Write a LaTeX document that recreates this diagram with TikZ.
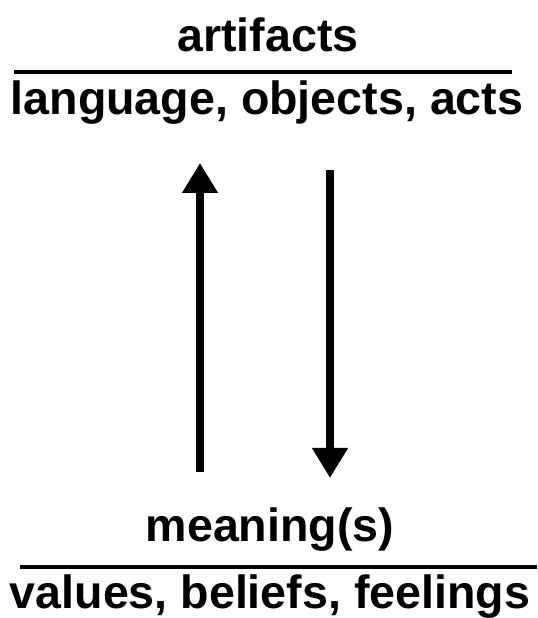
\documentclass[tikz,border=0pt]{standalone}
\usepackage{fontspec}
\setmainfont{Liberation Sans}
\usetikzlibrary{arrows.meta,positioning}

\begin{document}
\begin{tikzpicture}[
  label/.style={font=\bfseries\fontsize{26.5}{29}\selectfont,inner sep=0pt},
  rule/.style={draw=black,line width=2.2pt},
  arrow/.style={-{Triangle[length=6mm,width=6.8mm]},draw=black,line width=4.6pt}]
\useasboundingbox (0,0) rectangle (10.74,12.36);
\node[label] (artifacts) at (5.36,11.66) {artifacts};
\coordinate (topl) at (0.28,10.92);
\coordinate (topr) at (10.24,10.92);
\draw[rule] (topl) -- (topr);
\node[label] (forms) at (5.34,10.30) {language, objects, acts};

\coordinate (upfoot) at (4.0,2.92);
\coordinate (uptip) at (4.0,9.10);
\coordinate (downfoot) at (6.6,8.96);
\coordinate (downtip) at (6.6,2.80);
\draw[arrow] (upfoot) -- (uptip);
\draw[arrow] (downfoot) -- (downtip);

\node[label] (meaning) at (5.40,1.76) {meaning(s)};
\coordinate (botl) at (0.40,1.02);
\coordinate (botr) at (10.74,1.02);
\draw[rule] (botl) -- (botr);
\node[label] (values) at (5.40,0.42) {values, beliefs, feelings};
\end{tikzpicture}
\end{document}
